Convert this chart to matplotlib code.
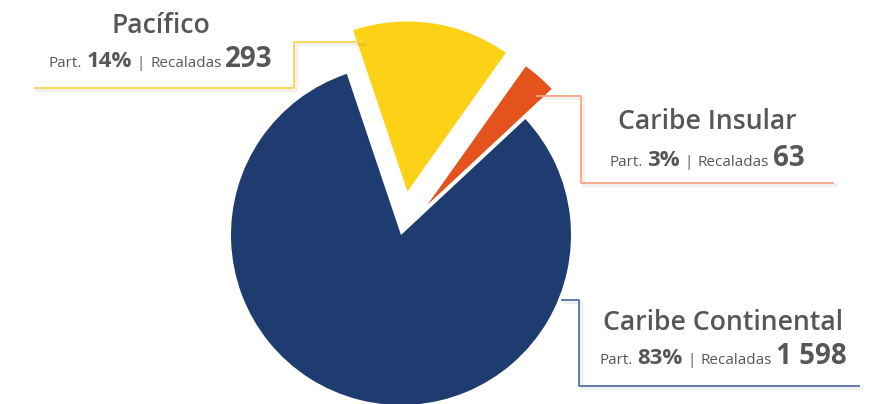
import matplotlib.pyplot as plt

# data
regions = ['Caribe Insular', 'Pacífico', 'Caribe Continental']
recaladas = [63, 293, 1598]
participacion = ['3%', '14%', '83%']
recaladas_txt = ['63', '293', '1 598']
colors = ['#E5531D', '#FDD116', '#1E3C70']
line_colors = ['#F4A585', '#F8D54A', '#5673A6']

W, H = 889, 404
TXT = '#575757'
FONT = 'Open Sans'

fig = plt.figure(figsize=(W / 100, H / 100), dpi=100)
ax = fig.add_axes([0, 0, 1, 1])
ax.pie(recaladas, colors=colors, startangle=43, counterclock=True,
       radius=170, center=(401, H - 235), explode=[40, 44, 0],
       wedgeprops=dict(linewidth=0))
ax.set_xlim(0, W)
ax.set_ylim(0, H)
ax.set_aspect('auto')
ax.axis('off')

# leader lines (pixel coords from top-left)
paths = {
    'Caribe Insular': [(537, 96), (581, 96), (581, 183), (833, 183)],
    'Pacífico': [(35, 88), (294, 88), (294, 42), (362, 42)],
    'Caribe Continental': [(562, 300), (579, 300), (579, 386), (859, 386)],
}
for reg, lc in zip(regions, line_colors):
    xs = [p[0] for p in paths[reg]]
    ys = [H - p[1] for p in paths[reg]]
    ax.plot([x + 2 for x in xs], [y - 2 for y in ys], color='#000000', alpha=0.06, lw=2.5)
    ax.plot(xs, ys, color=lc, lw=1.3)

# labels: title centre x, title baseline, second line baseline
label_pos = {
    'Caribe Insular': (707, 129, 166),
    'Pacífico': (161, 33, 67),
    'Caribe Continental': (723, 330, 364),
}

fig.canvas.draw()
renderer = fig.canvas.get_renderer()


def rich_line(cx, by, pieces):
    texts = []
    x = 0
    for s, size, weight, gap in pieces:
        t = ax.text(x, H - by, s, fontsize=size, fontweight=weight, family=FONT,
                    color=TXT, ha='left', va='baseline')
        bb = t.get_window_extent(renderer)
        texts.append((t, x))
        x += bb.width + gap
    total = x - pieces[-1][3]
    x0 = cx - total / 2
    for t, off in texts:
        t.set_x(x0 + off)


for reg, part, rec in zip(regions, participacion, recaladas_txt):
    cx, b1, b2 = label_pos[reg]
    ax.text(cx, H - b1, reg, fontsize=19.2, fontweight='semibold', family=FONT,
            color=TXT, ha='center', va='baseline')
    rich_line(cx, b2, [
        ('Part.', 11, 'normal', 4),
        (part, 16, 'bold', 5),
        ('|', 11, 'normal', 5),
        ('Recaladas', 11, 'normal', 4),
        (rec, 20, 'bold', 0),
    ])

fig.savefig('out.png', dpi=100)
